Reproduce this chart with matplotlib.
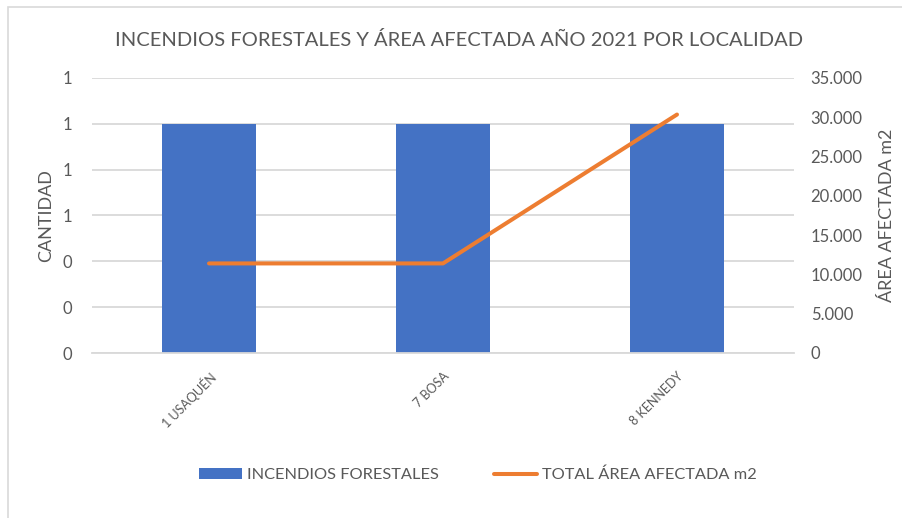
import numpy as np
import matplotlib
matplotlib.use('Agg')
import matplotlib.pyplot as plt
from matplotlib.patches import Rectangle
from matplotlib.ticker import FuncFormatter

localidades = ['1 USAQUÉN', '7 BOSA', '8 KENNEDY']
incendios = [1, 1, 1]
area_m2 = [11400, 11400, 30350]

plt.rcParams['font.family'] = ['Lato', 'DejaVu Sans']
gris = '#595959'
grid_c = '#D9D9D9'

fig = plt.figure(figsize=(9.02, 5.18), dpi=100)
ax = fig.add_axes((92 / 902, 1 - 353 / 518, 702 / 902, 275 / 518))
ax2 = ax.twinx()

x = np.arange(len(localidades))
ax.bar(x, incendios, width=0.4, color='#4472C4', label='INCENDIOS FORESTALES', zorder=2)
ax2.plot(x, area_m2, color='#ED7D31', lw=2.9, solid_capstyle='round',
         label='TOTAL ÁREA AFECTADA m2', zorder=3)

ax.set_xlim(-0.5, 2.5)
ax.set_ylim(0, 1.2)
ax.set_yticks(np.arange(0, 1.21, 0.2))
ax.yaxis.set_major_formatter(FuncFormatter(lambda v, p: '{:.0f}'.format(v)))
ax2.set_ylim(0, 35000)
ax2.set_yticks(np.arange(0, 35001, 5000))
ax2.yaxis.set_major_formatter(FuncFormatter(lambda v, p: '{:,.0f}'.format(v).replace(',', '.')))

ax.grid(axis='y', color=grid_c, lw=1.3, zorder=0)
ax.set_axisbelow(True)
for a in (ax, ax2):
    for s in a.spines.values():
        s.set_visible(False)
    a.tick_params(length=0, labelsize=12, colors=gris)
ax.spines['bottom'].set_visible(True)
ax.spines['bottom'].set_color(grid_c)
ax.spines['bottom'].set_linewidth(1.3)

ax.set_xticks(x)
ax.set_xticklabels(localidades, rotation=45, ha='right', rotation_mode='anchor', fontsize=9)
ax.tick_params(axis='x', pad=12)
ax.tick_params(axis='y', pad=14)
ax2.tick_params(axis='y', pad=12)

ax.set_ylabel('CANTIDAD', fontsize=13, color=gris, labelpad=6)
ax2.set_ylabel('ÁREA AFECTADA m2', fontsize=13, color=gris, labelpad=12)

fig.text(459 / 902, 1 - 40 / 518, 'INCENDIOS FORESTALES Y ÁREA AFECTADA AÑO 2021 POR LOCALIDAD',
         ha='center', va='center', fontsize=14.5, color=gris)

h1, l1 = ax.get_legend_handles_labels()
h2, l2 = ax2.get_legend_handles_labels()
fig.legend(h1 + h2, l1 + l2, loc='center', bbox_to_anchor=(478 / 902, 1 - 475 / 518), ncol=2,
           frameon=False, fontsize=11.8, labelcolor=gris, handlelength=2.6, handleheight=0.62,
           handletextpad=0.3, columnspacing=3.4)

fig.patches.append(Rectangle((8 / 902, -0.1), 1.2, 1 - 7 / 518 + 0.1, transform=fig.transFigure,
                             fill=False, edgecolor='#D9D9D9', lw=1.2))

plt.savefig('out.png', dpi=100)
